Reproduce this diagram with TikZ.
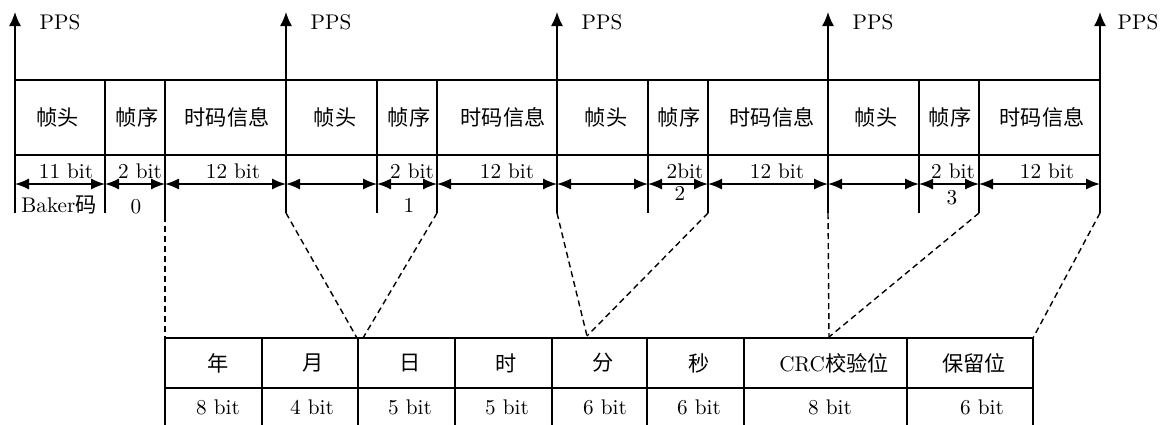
\documentclass[tikz,border=0pt]{standalone}
\usepackage{fontspec}
\newfontfamily\cjk{Noto Sans CJK SC}
\usetikzlibrary{arrows.meta}
\begin{document}
\begin{tikzpicture}[x=0.5pt,y=-0.5pt,line width=0.7pt,
  lbl/.style={font=\fontsize{10.6}{12}\selectfont,inner sep=0pt},
  dimarrow/.style={{Latex[length=7pt,width=5.5pt]}-{Latex[length=7pt,width=5.5pt]}},
  dsh/.style={dash pattern=on 3pt off 2pt},
  ppsarrow/.style={-{Latex[length=7pt,width=6pt]}}]
\useasboundingbox (0,0) rectangle (1160,424);
% frame boundaries
\foreach \n/\x in {a/15,b/105,c/165,d/286,e/377,f/437,g/557,h/648,i/708,j/828,k/919,l/979,m/1100}{
  \coordinate (\n-top) at (\x,80);
  \coordinate (\n-mid) at (\x,184);
  \coordinate (\n-bot) at (\x,213);
  \coordinate (\n-pps) at (\x,12);
}
% PPS arrows
\foreach \n/\s in {a/12pt,d/12pt,g/12pt,j/12pt,m/8.5pt}{
  \draw[ppsarrow] (\n-bot) -- (\n-pps);
  \node[lbl,anchor=west] (\n-ppslbl) at ([xshift=\s,yshift=-5pt]\n-pps) {PPS};
}
% frame lines
\draw (a-top) -- (m-top);
\draw (15,155) -- (1100,155);
\foreach \n in {b,e,f,h,i,k,l}{\draw (\n-top) -- (\n-bot);}
\draw (c-top) -- (165,216);
% dimension arrows
\foreach \p/\q in {a/b,b/c,c/d,d/e,e/f,f/g,g/h,h/i,i/j,j/k,k/l,l/m}{
  \draw[dimarrow] (\p-mid) -- (\q-mid);
}
% frame labels
\foreach \nm/\x/\t in {h1/58/帧头,s1/137/帧序,t1/227/时码信息,
  h2/335/帧头,s2/409/帧序,t2/503/时码信息,
  h3/606/帧头,s3/679/帧序,t3/772/时码信息,
  h4/876/帧头,s4/950/帧序,t4/1042/时码信息}{
  \node[lbl] (\nm) at (\x,117) {\cjk \t};
}
% bit labels
\foreach \nm/\x/\t in {b1/66/11 bit,b2/140/2 bit,b3/233/12 bit,
  b4/412/2 bit,b5/507/12 bit,b6/685/2bit,b7/777/12 bit,b8/953/2 bit,b9/1047/12 bit}{
  \node[lbl] (\nm) at (\x,171) {\t};
}
\node[lbl] (baker) at (59,205) {Baker{\cjk 码}};
\node[lbl] (n0) at (136,207) {0};
\node[lbl] (n1) at (409,205) {1};
\node[lbl] (n2) at (680,193) {2};
\node[lbl] (n3) at (952,198) {3};
% lower table
\draw (165,338) -- (1033,338);
\draw (165,388) -- (1033,388);
\foreach \x in {165,262,358,455,552,647,744,907,1033}{\draw (\x,338) -- (\x,426);}
\foreach \nm/\x/\t in {y/218/年,mo/313/月,dd/410/日,hh/506/时,mi/603/分,se/699/秒}{
  \node[lbl] (\nm) at (\x,363) {\cjk \t};
}
\node[lbl] (crc) at (834,363) {CRC{\cjk 校验位}};
\node[lbl] (res) at (974,363) {\cjk 保留位};
\foreach \nm/\x/\t in {y/218/8 bit,mo/312/4 bit,dd/410/5 bit,hh/507/5 bit,mi/605/6 bit,se/699/6 bit,crc/830/8 bit,res/982/6 bit}{
  \node[lbl] (\nm-bits) at (\x,407) {\t};
}
% dashed connectors
\coordinate (t1) at (165,338);
\coordinate (t2a) at (357,338);
\coordinate (t2b) at (363,338);
\coordinate (t3) at (587,336);
\coordinate (t4) at (829,337);
\coordinate (t5) at (1033,338);
\draw[dsh] (165,216) -- (t1);
\draw[dsh] (d-bot) -- (t2a);
\draw[dsh] (f-bot) -- (t2b);
\draw[dsh] (g-bot) -- (t3);
\draw[dsh] (i-bot) -- (t3);
\draw[dsh] (j-bot) -- (t4);
\draw[dsh] (l-bot) -- (t4);
\draw[dsh] (m-bot) -- (t5);
\end{tikzpicture}
\end{document}
